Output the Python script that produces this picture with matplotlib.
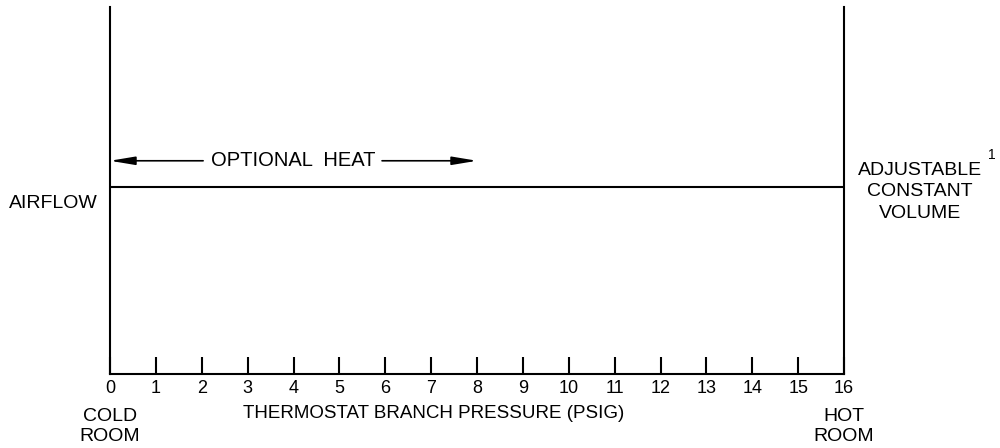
import matplotlib
matplotlib.use("Agg")
import matplotlib.pyplot as plt

# ---- data ----
pressure_ticks = list(range(0, 17))
tick_labels = [str(t) for t in pressure_ticks]
airflow_level = 0.51          # constant volume airflow (relative)
optional_heat_range = [0, 8]  # psig span of optional heat
xlabel = "THERMOSTAT BRANCH PRESSURE (PSIG)"
ylabel = "AIRFLOW"
right_label = "ADJUSTABLE\nCONSTANT\nVOLUME"
left_end_label = "COLD\nROOM"
right_end_label = "HOT\nROOM"

plt.rcParams['font.family'] = ['Liberation Sans', 'DejaVu Sans']

fig = plt.figure(figsize=(10, 4.48), dpi=100)
ax = fig.add_axes([0.110, 74/448, 0.734, 367/448])
ax.set_xlim(pressure_ticks[0], pressure_ticks[-1])
ax.set_ylim(0, 1)

for side in ['left', 'right', 'bottom']:
    ax.spines[side].set_linewidth(1.5)
ax.spines['top'].set_visible(False)

ax.set_xticks(pressure_ticks)
ax.set_xticklabels(tick_labels, fontsize=13)
ax.tick_params(axis='x', direction='in', length=12, width=1.5, pad=4)
ax.set_yticks([])

# airflow line
ax.plot(pressure_ticks[:1] + pressure_ticks[-1:], [airflow_level, airflow_level],
        color='black', lw=1.5, solid_capstyle='butt')

# optional heat arrows
ya = 0.581
xc = sum(optional_heat_range) / 2
ax.text(xc, ya, "OPTIONAL  HEAT", ha='center', va='center', fontsize=14.5)
arrow_kw = dict(arrowstyle='-|>,head_length=1.5,head_width=0.25', lw=1.2,
                color='black', shrinkA=0, shrinkB=0, mutation_scale=10)
ax.annotate('', xy=(optional_heat_range[0], ya), xytext=(2.03, ya), arrowprops=arrow_kw)
ax.annotate('', xy=(optional_heat_range[1], ya), xytext=(5.93, ya), arrowprops=arrow_kw)

tr = ax.get_xaxis_transform()
ax.text(-1.23, 0.4646, ylabel, ha='center', va='center', fontsize=14, transform=tr, clip_on=False)
ax.text(17.66, 0.496, right_label, ha='center', va='center', fontsize=14,
        linespacing=1.32, transform=tr, clip_on=False)
ax.text(19.23, 0.597, "1", ha='center', va='center', fontsize=10, transform=tr, clip_on=False)

ax.text(0, -0.143, left_end_label, ha='center', va='center', fontsize=14,
        linespacing=1.2, transform=tr, clip_on=False)
ax.text(16, -0.143, right_end_label, ha='center', va='center', fontsize=14,
        linespacing=1.2, transform=tr, clip_on=False)
ax.text(7.06, -0.107, xlabel, ha='center', va='center', fontsize=13.5, transform=tr, clip_on=False)

fig.savefig("out.png", dpi=100)
